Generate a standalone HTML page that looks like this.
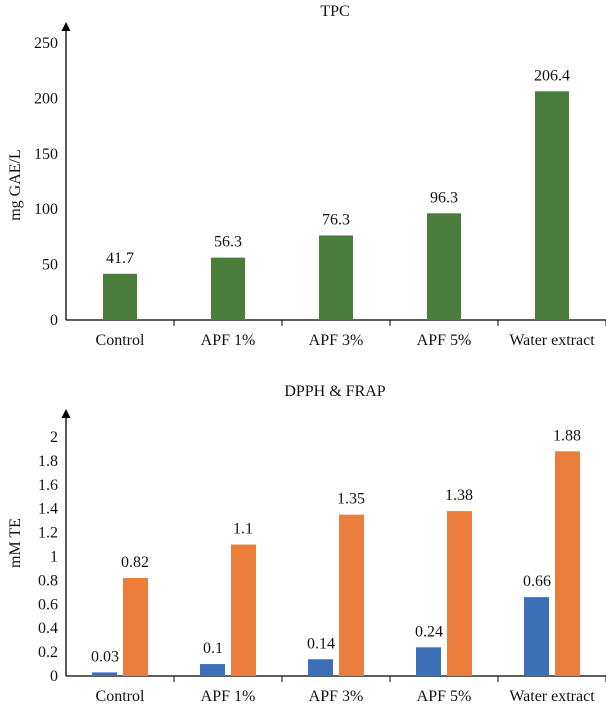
<!DOCTYPE html>
<html><head><meta charset="utf-8"><style>
html,body{margin:0;padding:0;background:#fff}
svg text{font-family:"Liberation Serif",serif;font-size:16px;fill:#111}
</style></head><body>
<svg id="c" width="606" height="702" xmlns="http://www.w3.org/2000/svg"></svg>
<script>
const categories=["Control","APF 1%","APF 3%","APF 5%","Water extract"];
const tpcValues=[41.7,56.3,76.3,96.3,206.4];
const tpcTicks=[0,50,100,150,200,250];
const dpphValues=[0.03,0.1,0.14,0.24,0.66];
const frapValues=[0.82,1.1,1.35,1.38,1.88];
const dTicks=[0,0.2,0.4,0.6,0.8,1,1.2,1.4,1.6,1.8,2];
const svg=document.getElementById('c');
const NS='http://www.w3.org/2000/svg';
function mk(tag,attrs,parent){const e=document.createElementNS(NS,tag);for(const k in attrs)e.setAttribute(k,attrs[k]);(parent||svg).appendChild(e);return e;}
const X0=66,CW=108;
function cx(i){return X0+CW*i+CW/2;}
function axes(g,y0,yTop,arrowTip,ticks,yf,title,titleY,ylabel,ylabelY){
  let t=mk('text',{x:335,y:titleY,'text-anchor':'middle','font-size':'15'},g);t.textContent=title;
  
  let yl=mk('text',{x:0,y:0,'text-anchor':'middle',transform:`translate(20,${ylabelY}) rotate(-90)`},g);yl.textContent=ylabel;
  
  let ya=mk('line',{x1:X0,y1:y0,x2:X0,y2:arrowTip+6,stroke:'#000','stroke-width':1.3},g);
  
  let ar=mk('path',{d:`M${X0-4.5},${arrowTip+9} L${X0},${arrowTip} L${X0+4.5},${arrowTip+9} Z`,fill:'#000'},g);
  
  let xa=mk('line',{x1:X0,y1:y0,x2:X0+CW*5,y2:y0,stroke:'#000','stroke-width':1.3},g);
  
  for(let i=1;i<=5;i++){let tk=mk('line',{x1:X0+CW*i,y1:y0,x2:X0+CW*i,y2:y0+6,stroke:'#000'},g);
    }
  ticks.forEach(v=>{let tl=mk('text',{x:X0-8,y:yf(v)+5,'text-anchor':'end'},g);tl.textContent=String(v);
    });
  categories.forEach((c,i)=>{let cl=mk('text',{x:cx(i),y:y0+25,'text-anchor':'middle'},g);cl.textContent=c;
    });
}
// TPC chart
const g1=mk('g',{});


const Y1=320,S1=(320-43)/250;
const y1=v=>Y1-v*S1;
axes(g1,Y1,43,22,tpcTicks,y1,'TPC',16,'mg GAE/L',185);
tpcValues.forEach((v,i)=>{
  let r=mk('rect',{x:cx(i)-17,y:y1(v),width:34,height:Y1-y1(v),fill:'#4a7d3b'},g1);
  
  
  let t=mk('text',{x:cx(i),y:y1(v)-11,'text-anchor':'middle'},g1);t.textContent=String(v);
  
  
});
// DPPH & FRAP chart
const g2=mk('g',{});


const Y2=676,S2=(676-437)/2;
const y2=v=>Y2-v*S2;
axes(g2,Y2,437,409,dTicks,y2,'DPPH & FRAP',396,'mM TE',543);
dpphValues.forEach((v,i)=>{
  let r=mk('rect',{x:cx(i)-28,y:y2(v),width:25,height:Y2-y2(v),fill:'#3d6fb6'},g2);
  
  
  let t=mk('text',{x:cx(i)-15,y:y2(v)-11,'text-anchor':'middle'},g2);t.textContent=String(v);
  
  
});
frapValues.forEach((v,i)=>{
  let r=mk('rect',{x:cx(i)+3,y:y2(v),width:25,height:Y2-y2(v),fill:'#eb7e3c'},g2);
  
  
  let t=mk('text',{x:cx(i)+15,y:y2(v)-11,'text-anchor':'middle'},g2);t.textContent=String(v);
  
  
});
</script>
</body></html>
